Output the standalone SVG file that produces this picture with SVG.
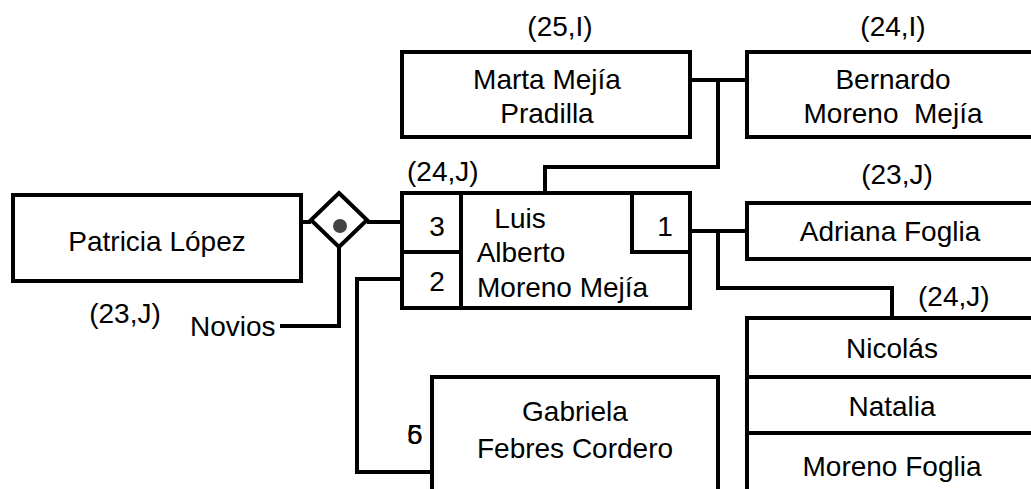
<svg xmlns="http://www.w3.org/2000/svg" width="1031" height="489" viewBox="0 0 1031 489">
<style>
.b{fill:#fff;stroke:#000;stroke-width:4}
.c{fill:none;stroke:#000;stroke-width:4}
text{font-family:"Liberation Sans",Arial,sans-serif;font-size:28px;fill:#000}
.m{text-anchor:middle}
</style>
<rect width="1031" height="489" fill="#fff"/>
<g id="connectors">
<path class="c" d="M690 80H748M718 80V167H545V193"/>
<path class="c" d="M690 231H748M718 231V288H892V318"/>
<path class="c" d="M300 222H311M367 222H402"/>
<path class="c" d="M339 247V326H280"/>
<path class="c" d="M402 279H357V472H432"/>
</g>
<g id="marta"><rect class="b" x="402" y="52" width="288" height="85"/><text class="m" x="547" y="89">Marta Mejía</text><text class="m" x="547" y="123">Pradilla</text></g>
<g id="bernardo"><rect class="b" x="747" y="52" width="300" height="85"/><text class="m" x="893" y="89">Bernardo</text><text class="m" x="893" y="123" xml:space="preserve">Moreno  Mejía</text></g>
<g id="luis"><rect class="b" x="402" y="193" width="288" height="115"/><text class="m" x="520" y="228">Luis</text><text class="m" x="521" y="262">Alberto</text><text x="477" y="297">Moreno Mejía</text></g>
<g id="r3"><rect class="b" x="402" y="193" width="59" height="59" stroke-width="5"/><text class="m" x="437" y="236">3</text></g>
<g id="r2"><rect class="b" x="402" y="252" width="59" height="56" stroke-width="3"/><text class="m" x="437" y="291">2</text></g>
<g id="r1"><rect class="b" x="632" y="193" width="58" height="59"/><text class="m" x="665" y="236">1</text></g>
<g id="adriana"><rect class="b" x="747" y="203" width="300" height="56"/><text class="m" x="890" y="241">Adriana Foglia</text></g>
<g id="hijos"><rect class="b" x="747" y="318" width="300" height="200"/><path class="c" d="M747 377H1040M747 433H1040"/><text class="m" x="892" y="358">Nicolás</text><text class="m" x="892" y="416">Natalia</text><text class="m" x="892" y="476">Moreno Foglia</text></g>
<g id="patricia"><rect class="b" x="13" y="195" width="288" height="86"/><text class="m" x="157" y="251">Patricia López</text></g>
<g id="novios"><polygon class="b" points="339,193 367,220 339,247 311,220"/><circle cx="340" cy="226" r="7" fill="#444"/></g>
<g id="gabriela"><rect class="b" x="432" y="377" width="286" height="130"/><text class="m" x="575" y="421">Gabriela</text><text class="m" x="575" y="458">Febres Cordero</text><text x="407" y="444" font-size="22">5</text><text x="407" y="444" font-size="22">6</text></g>
<g id="labels">
<text class="m" x="560" y="36">(25,I)</text>
<text class="m" x="893" y="36">(24,I)</text>
<text x="407" y="181">(24,J)</text>
<text class="m" x="897" y="184">(23,J)</text>
<text class="m" x="125" y="323">(23,J)</text>
<text x="190" y="336">Novios</text>
<text x="918" y="306">(24,J)</text>
</g>
</svg>
